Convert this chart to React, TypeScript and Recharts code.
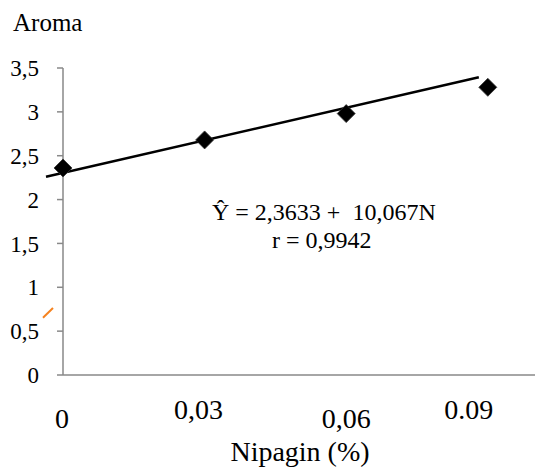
import React from "react";
import {
  ScatterChart,
  Scatter,
  XAxis,
  YAxis,
  ReferenceLine,
  ReferenceDot,
  Customized,
} from "recharts";

// ---- data ----
const xTickValues = [0, 0.02, 0.04, 0.06, 0.08, 0.1];
const yTickValues = [0, 0.5, 1, 1.5, 2, 2.5, 3, 3.5];
const nipaginLevels = [0, 0.03, 0.06, 0.09];
const aromaScores = [2.36, 2.68, 2.98, 3.28];
const xLabelValues = [0, 0.03, 0.06, 0.09];
const xLabelTexts = ["0", "0,03", "0,06", "0.09"];
const trendLine = [
  { x: -0.0036, y: 2.26 },
  { x: 0.0881, y: 3.394 },
];
const orangeMark = [
  { x: -0.00424, y: 0.653 },
  { x: -0.00212, y: 0.763 },
];
const equationLine1 = "\u0176 = 2,3633 +  10,067N";
const equationLine2 = "r = 0,9942";
const yTitle = "Aroma";
const xTitle = "Nipagin (%)";

// ---- styles ----
const FONT = "'Liberation Serif', 'Times New Roman', serif";
const AXIS_COLOR = "#898989";
const xLabelOffsets = [
  { dx: -1, dy: 53 },
  { dx: -6, dy: 44 },
  { dx: 0, dy: 53 },
  { dx: -19, dy: 44 },
];

const scatterData = nipaginLevels.map((x, i) => ({ x, y: aromaScores[i] }));

const Diamond = (props: any) => {
  const { cx, cy } = props;
  const h = 9;
  return (
    <polygon
      points={`${cx},${cy - h} ${cx + h},${cy} ${cx},${cy + h} ${cx - h},${cy}`}
      fill="#000"
      stroke="#333"
      strokeWidth={0.8}
    />
  );
};

const Texts = () => (
  <g fontFamily={FONT} fill="#000" style={{ fontFamily: FONT }}>
    <text x={13} y={31} fontSize={25}>
      {yTitle}
    </text>
    <text x={212} y={220} fontSize={24} style={{ whiteSpace: "pre", fontFamily: FONT }}>
      {equationLine1}
    </text>
    <text x={272} y={248} fontSize={24}>
      {equationLine2}
    </text>
    <text x={300} y={461} fontSize={28} textAnchor="middle">
      {xTitle}
    </text>
  </g>
);

export default function App() {
  return (
    <div
      style={{
        position: "absolute",
        left: 0,
        top: 0,
        background: "#fff",
        fontFamily: FONT,
      }}
    >
      <ScatterChart
        width={544}
        height={468}
        margin={{ top: 68, right: 9, bottom: 63, left: 0 }}
        style={{ fontFamily: FONT }}
      >
        <XAxis
          type="number"
          dataKey="x"
          domain={[0, 0.1]}
          ticks={xTickValues}
          tick={false}
          tickSize={6}
          height={30}
          stroke={AXIS_COLOR}
          strokeWidth={1.5}
        />
        <YAxis
          type="number"
          dataKey="y"
          domain={[0, 3.5]}
          ticks={yTickValues}
          width={63}
          tickSize={6}
          tickMargin={18}
          stroke={AXIS_COLOR}
          strokeWidth={1.5}
          tickFormatter={(v: number) => String(v).replace(".", ",")}
          tick={{ fill: "#000", fontSize: 23, fontFamily: FONT, style: { fontFamily: FONT } }}
        />
        <ReferenceLine
          segment={trendLine}
          stroke="#000"
          strokeWidth={2.5}
          ifOverflow="visible"
        />
        <ReferenceLine
          segment={orangeMark}
          stroke="#F5821F"
          strokeWidth={2}
          ifOverflow="visible"
        />
        <Scatter
          data={scatterData}
          shape={Diamond}
          isAnimationActive={false}
        />
        {xLabelValues.map((v, i) => (
          <ReferenceDot
            key={i}
            x={v}
            y={0}
            r={0}
            ifOverflow="visible"
            shape={(p: any) => (
              <text
                x={p.cx + xLabelOffsets[i].dx}
                y={p.cy + xLabelOffsets[i].dy}
                textAnchor="middle"
                fontSize={28}
                fill="#000"
                style={{ fontFamily: FONT }}
              >
                {xLabelTexts[i]}
              </text>
            )}
          />
        ))}
        <Customized component={Texts} />
      </ScatterChart>
    </div>
  );
}
